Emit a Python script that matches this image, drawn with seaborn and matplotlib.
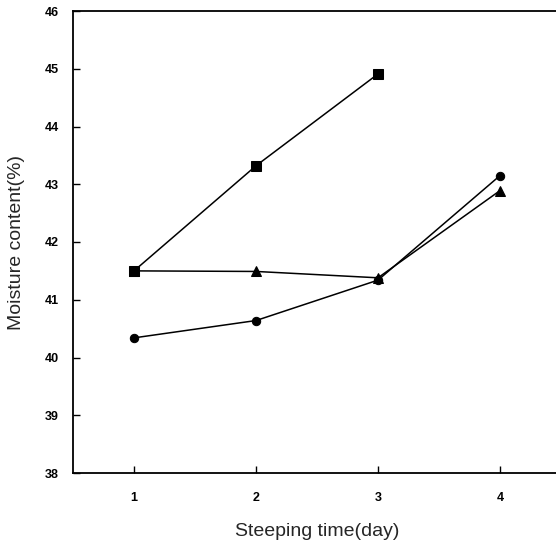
import matplotlib
matplotlib.use("Agg")
import matplotlib.pyplot as plt
import seaborn as sns
import pandas as pd

days = [1, 2, 3, 4]
square_vals = [41.50, 43.32, 44.91]
triangle_vals = [41.50, 41.49, 41.38, 42.89]
circle_vals = [40.34, 40.64, 41.34, 43.15]

y_ticks = [38, 39, 40, 41, 42, 43, 44, 45, 46]
x_ticks = [1, 2, 3, 4]

sns.set_theme(style="white")
plt.rcParams['font.family'] = ['Liberation Sans', 'DejaVu Sans']

fig = plt.figure(figsize=(5.56, 5.48), dpi=100)
ax = fig.add_axes([73/556, 1-473/548, 488/556, (473-11)/548])

series = [
    ("triangle", days, triangle_vals, "^", 7),
    ("circle", days, circle_vals, "o", 6),
    ("square", days[:3], square_vals, "s", 7),
]
for name, xs, ys, mk, ms in series:
    df = pd.DataFrame({"day": xs, "val": ys})
    sns.lineplot(data=df, x="day", y="val", ax=ax, color="black", lw=1.1,
                 marker=mk, markersize=ms, markeredgecolor="black",
                 markerfacecolor="black", estimator=None, sort=False)

ax.set_xlim(0.5, 4.5)
ax.set_ylim(38, 46)
ax.set_xticks(x_ticks)
ax.set_xticklabels([str(v) for v in x_ticks])
ax.set_yticks(y_ticks)
ax.set_yticklabels([str(v) for v in y_ticks])
ax.tick_params(direction="in", length=5, width=1, colors="black",
               labelsize=9, left=True, bottom=True, pad=10)
for lab in ax.get_xticklabels() + ax.get_yticklabels():
    lab.set_fontweight("bold")
ax.tick_params(axis="x", pad=14)
for side in ["left", "top", "bottom"]:
    ax.spines[side].set_visible(True)
    ax.spines[side].set_color("black")
    ax.spines[side].set_linewidth(1.3)
ax.spines["right"].set_visible(False)
ax.grid(False)
ax.set_xlabel("Steeping time(day)", fontsize=14, labelpad=13)
ax.set_ylabel("Moisture content(%)", fontsize=14, labelpad=14)

fig.savefig("out.png", dpi=100)
